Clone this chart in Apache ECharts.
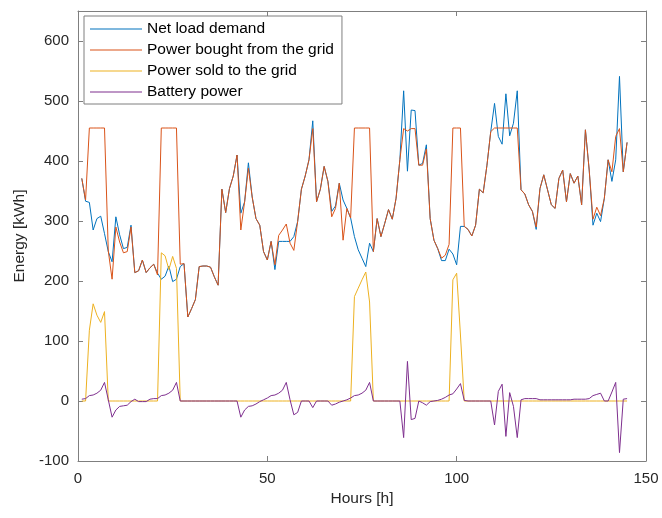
<!DOCTYPE html>
<html>
<head>
<meta charset="utf-8">
<script src="https://cdn.jsdelivr.net/npm/echarts@6/dist/echarts.min.js"></script>
<style>
html,body{margin:0;padding:0;background:#fff;}
#chart{width:662px;height:518px;}
</style>
</head>
<body>
<div id="chart"></div>
<script>
// Hourly values, hour 1 .. 145
var netLoad = [371,333,331,285,304,308,279,249,232,307,277,254,256,293,214,217,235,214,222,228,
  213,203,208,225,199,203,224,229,140,154,169,224,225,225,223,207,193,353,314,354,
  375,410,313,332,397,340,304,293,249,235,266,219,266,266,266,266,274,299,353,375,
  402,467,332,353,391,366,316,325,363,335,321,305,274,252,238,224,263,249,304,274,
  296,319,303,338,402,517,383,485,484,393,396,427,304,268,254,234,234,253,245,227,
  291,291,286,275,293,353,347,393,449,496,441,428,512,442,463,517,352,345,327,316,
  286,354,377,352,327,321,371,385,332,379,363,375,327,452,385,293,313,299,338,402,
  366,402,541,382,431];
var bought = [371,335,455,455,455,455,455,250,203,290,265,247,249,290,214,217,235,214,222,228,
  210,455,455,455,455,455,228,229,140,154,169,224,225,225,223,207,193,353,314,354,
  375,410,285,332,388,340,304,293,249,235,266,227,276,285,295,263,251,299,353,375,
  402,454,332,353,391,366,307,321,363,268,321,305,455,455,455,455,455,249,304,274,
  296,319,303,338,402,454,450,454,454,393,393,420,304,268,254,238,243,261,455,455,
  455,291,286,275,293,353,347,393,449,455,455,455,455,455,455,455,352,345,327,316,
  290,354,377,352,327,321,371,385,332,379,363,375,327,452,385,303,323,309,338,402,
  382,441,454,382,431];
var sold = [0,0,118,162,143,131,149,0,0,0,0,0,0,0,0,0,0,0,0,0,
  0,247,242,219,241,221,0,0,0,0,0,0,0,0,0,0,0,0,0,0,
  0,0,0,0,0,0,0,0,0,0,0,0,0,0,0,0,0,0,0,0,
  0,0,0,0,0,0,0,0,0,0,0,0,174,188,202,215,165,0,0,0,
  0,0,0,0,0,0,0,0,0,0,0,0,0,0,0,0,0,0,202,213,
  110,0,0,0,0,0,0,0,0,0,0,0,0,0,0,0,0,0,0,0,
  0,0,0,0,0,0,0,0,0,0,0,0,0,0,0,0,0,0,0,0,
  0,0,0,0,0];
var battery = [3,4,9,10,13,18,31,2,-27,-15,-9,-8,-7,-1,3,-1,-1,-1,3,4,
  4,9,10,13,18,31,0,0,0,0,0,0,0,0,0,0,0,0,0,0,
  0,0,-27,-15,-9,-8,-5,-1,2,5,9,10,13,18,31,2,-23,-19,0,0,
  0,-11,0,0,0,0,-7,-5,-2,0,2,5,9,10,13,18,31,0,0,0,
  0,0,0,0,0,-61,66,-31,-29,0,-3,-7,-1,0,1,3,6,10,12,20,
  29,1,0,0,0,0,0,0,0,-40,16,28,-59,14,-9,-61,2,4,4,4,
  4,2,2,2,2,2,2,2,2,2,3,3,3,3,4,9,11,13,0,0,
  15,31,-86,3,4];
var seriesNames = ['Net load demand','Power bought from the grid','Power sold to the grid','Battery power'];
var xTicks = {min:0, max:150, interval:50};
var yTicks = {min:-100, max:650, interval:100};

function pairs(arr){ return arr.map(function(v,i){ return [i+1, v]; }); }

var colors = ['#0072BD','#D95319','#EDB120','#7E2F8E'];
var axisColor = '#262626';
var boxColor = '#7f7f7f';
var font = 'Liberation Sans, Arial, Helvetica, sans-serif';

var chart = echarts.init(document.getElementById('chart'), null, {renderer:'canvas'});
function baseAxis(extra){
  var a = {
    type:'value', splitLine:{show:false},
    axisLine:{show:true, onZero:false, lineStyle:{color:boxColor, width:1}},
    axisTick:{show:true, inside:true, length:5, lineStyle:{color:boxColor}},
    axisLabel:{show:true, color:axisColor, fontSize:15, fontFamily:font},
  };
  for (var k in extra) a[k] = extra[k];
  return a;
}
var option = {
  animation:false,
  color:colors,
  grid:{left:78, right:16, top:11, bottom:57, containLabel:false},
  xAxis:[
    baseAxis({min:xTicks.min, max:xTicks.max, interval:xTicks.interval,
      name:'Hours [h]', nameLocation:'middle', nameGap:29,
      nameTextStyle:{fontSize:15.5, color:axisColor, fontFamily:font},
      axisLabel:{color:axisColor, fontSize:15, fontFamily:font, margin:10}}),
    baseAxis({min:xTicks.min, max:xTicks.max, interval:xTicks.interval, position:'top',
      axisLabel:{show:false}})
  ],
  yAxis:[
    baseAxis({min:yTicks.min, max:yTicks.max, interval:yTicks.interval,
      name:'Energy [kWh]', nameLocation:'middle', nameGap:45, nameRotate:90,
      nameTextStyle:{fontSize:15.5, color:axisColor, fontFamily:font},
      axisLabel:{color:axisColor, fontSize:15, fontFamily:font, margin:9, showMaxLabel:false,
        formatter:function(v){ return v > 600 ? '' : String(v); }}}),
    baseAxis({min:yTicks.min, max:yTicks.max, interval:yTicks.interval, position:'right',
      axisLabel:{show:false}})
  ],
  legend:{
    show:true, orient:'vertical', left:84, top:16,
    backgroundColor:'#fff', borderColor:boxColor, borderWidth:1,
    padding:[5,8,4,6], itemWidth:52, itemHeight:1, itemGap:5, icon:'rect',
    textStyle:{fontSize:15.5, lineHeight:16, color:'#000', fontFamily:font},
    data:seriesNames
  },
  series:[
    {name:seriesNames[0], type:'line', data:pairs(netLoad)},
    {name:seriesNames[1], type:'line', data:pairs(bought)},
    {name:seriesNames[2], type:'line', data:pairs(sold)},
    {name:seriesNames[3], type:'line', data:pairs(battery)}
  ].map(function(s, i){
    s.symbol = 'none'; s.showSymbol = false;
    s.lineStyle = {width:1, color:colors[i]};
    s.itemStyle = {color:colors[i]};
    s.xAxisIndex = 0; s.yAxisIndex = 0;
    return s;
  })
};
chart.setOption(option);
</script>
</body>
</html>
